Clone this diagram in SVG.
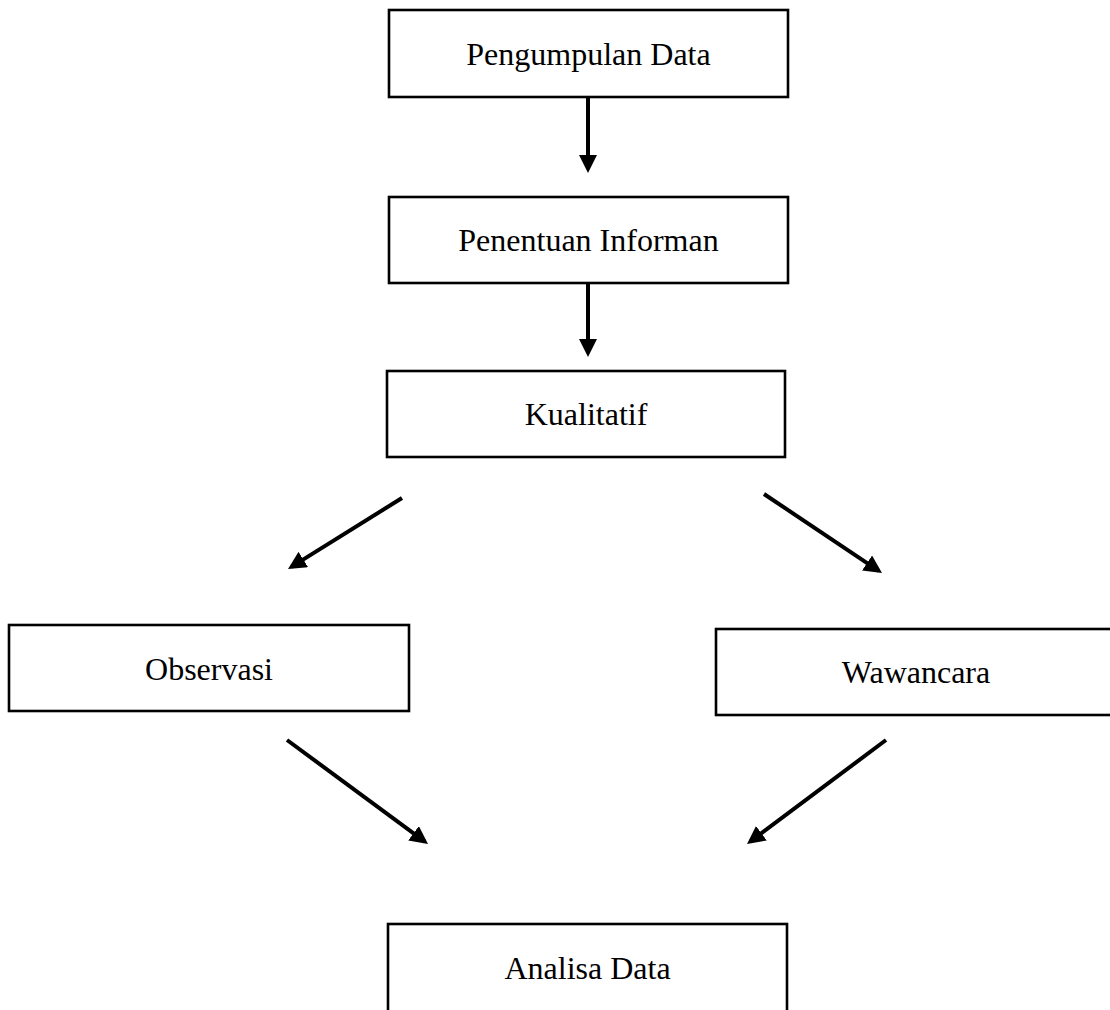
<svg xmlns="http://www.w3.org/2000/svg" width="1110" height="1010" viewBox="0 0 1110 1010">
<style>
.box{fill:#fff;stroke:#000;stroke-width:2.6}
.lbl{font-family:"Liberation Serif","Times New Roman",serif;font-size:32px;fill:#000;text-anchor:middle}
.con{stroke:#000;stroke-width:4;fill:none;marker-end:url(#ah)}
</style>
<defs>
<marker id="ah" markerUnits="userSpaceOnUse" markerWidth="18" markerHeight="18" refX="14" refY="9" orient="auto">
<path d="M0,0 L18,9 L0,18 z" fill="#000"/>
</marker>
</defs>
<rect width="1110" height="1010" fill="#fff"/>
<g id="n1"><rect class="box" x="389" y="10" width="399" height="87"/><text class="lbl" x="588.5" y="65">Pengumpulan Data</text></g>
<g id="n2"><rect class="box" x="389" y="197" width="399" height="86"/><text class="lbl" x="588.5" y="251">Penentuan Informan</text></g>
<g id="n3"><rect class="box" x="387" y="371" width="398" height="86"/><text class="lbl" x="586" y="425">Kualitatif</text></g>
<g id="n4"><rect class="box" x="9" y="625" width="400" height="86"/><text class="lbl" x="209" y="680">Observasi</text></g>
<g id="n5"><rect class="box" x="716" y="629" width="400" height="86"/><text class="lbl" x="916" y="683">Wawancara</text></g>
<g id="n6"><rect class="box" x="388" y="924" width="399" height="100"/><text class="lbl" x="587.5" y="979">Analisa Data</text></g>
<g id="connectors">
<line class="con" x1="588" y1="97" x2="588" y2="169"/>
<line class="con" x1="588" y1="283" x2="588" y2="353"/>
<line class="con" x1="402" y1="498" x2="291.4" y2="566.9"/>
<line class="con" x1="764" y1="494" x2="878.7" y2="570.8"/>
<line class="con" x1="287" y1="740" x2="424.8" y2="841.6"/>
<line class="con" x1="886" y1="740" x2="750.2" y2="841.6"/>
</g>
</svg>
